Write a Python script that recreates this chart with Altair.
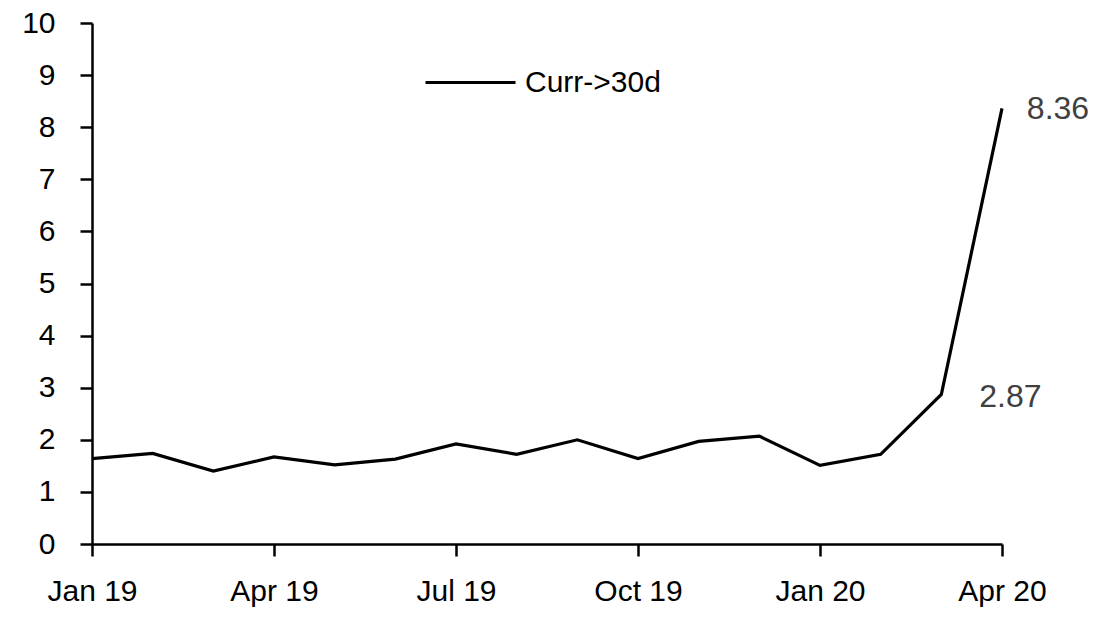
import altair as alt
import pandas as pd

months = ["Jan 19", "Feb 19", "Mar 19", "Apr 19", "May 19", "Jun 19", "Jul 19", "Aug 19",
          "Sep 19", "Oct 19", "Nov 19", "Dec 19", "Jan 20", "Feb 20", "Mar 20", "Apr 20"]
values = [1.64, 1.74, 1.40, 1.67, 1.52, 1.63, 1.92, 1.72,
          2.00, 1.64, 1.97, 2.07, 1.51, 1.72, 2.87, 8.36]
series_name = "Curr->30d"
tick_months = ["Jan 19", "Apr 19", "Jul 19", "Oct 19", "Jan 20", "Apr 20"]
y_ticks = list(range(0, 11))

df = pd.DataFrame({"month": months, "value": values, "series": series_name})

FONT = "Liberation Sans, Arial"

x_enc = alt.X("month:O", sort=months,
              scale=alt.Scale(type="point", padding=0),
              axis=alt.Axis(values=tick_months, title=None, labelAngle=0,
                            labelFontSize=30, labelFont=FONT, labelColor="black",
                            tickSize=12, tickWidth=2.5, tickColor="black",
                            domainColor="black", domainWidth=2.5,
                            labelPadding=20, grid=False))
y_enc = alt.Y("value:Q", scale=alt.Scale(domain=[0, 10], nice=False),
              axis=alt.Axis(values=y_ticks, title=None, labelFontSize=30,
                            labelFont=FONT, labelColor="black",
                            tickSize=12, tickWidth=2.5, tickColor="black",
                            domainColor="black", domainWidth=2.5,
                            labelPadding=25, grid=False))

line = alt.Chart(df).mark_line(strokeWidth=3.2).encode(
    x=x_enc, y=y_enc,
    color=alt.Color("series:N", scale=alt.Scale(range=["black"]),
                    legend=alt.Legend(title=None, orient="none", legendX=332, legendY=13,
                                      symbolType="stroke", symbolSize=8100,
                                      symbolStrokeWidth=3, labelFontSize=30,
                                      labelFont=FONT, labelColor="black",
                                      labelOffset=8)),
)

lab_df = df[df["month"].isin(["Mar 20", "Apr 20"])].copy()
lab_df["txt"] = lab_df["value"].map(lambda v: f"{v:.2f}")

lab_mar = alt.Chart(lab_df[lab_df["month"] == "Mar 20"]).mark_text(
    fontSize=32, font=FONT, color="#404040", align="center", baseline="middle", dx=69, dy=3
).encode(x=alt.X("month:O", sort=months), y="value:Q", text="txt:N")

lab_apr = alt.Chart(lab_df[lab_df["month"] == "Apr 20"]).mark_text(
    fontSize=32, font=FONT, color="#404040", align="center", baseline="middle", dx=56, dy=1
).encode(x=alt.X("month:O", sort=months), y="value:Q", text="txt:N")

chart = alt.layer(line, lab_mar, lab_apr).properties(
    width=910, height=521,
    autosize=alt.AutoSizeParams(type="none"),
    padding={"left": 84, "top": 15, "right": 90, "bottom": 72},
).configure(background="white").configure_view(stroke=None)

chart.save("out.html", embed_options={"renderer": "svg", "actions": False})
